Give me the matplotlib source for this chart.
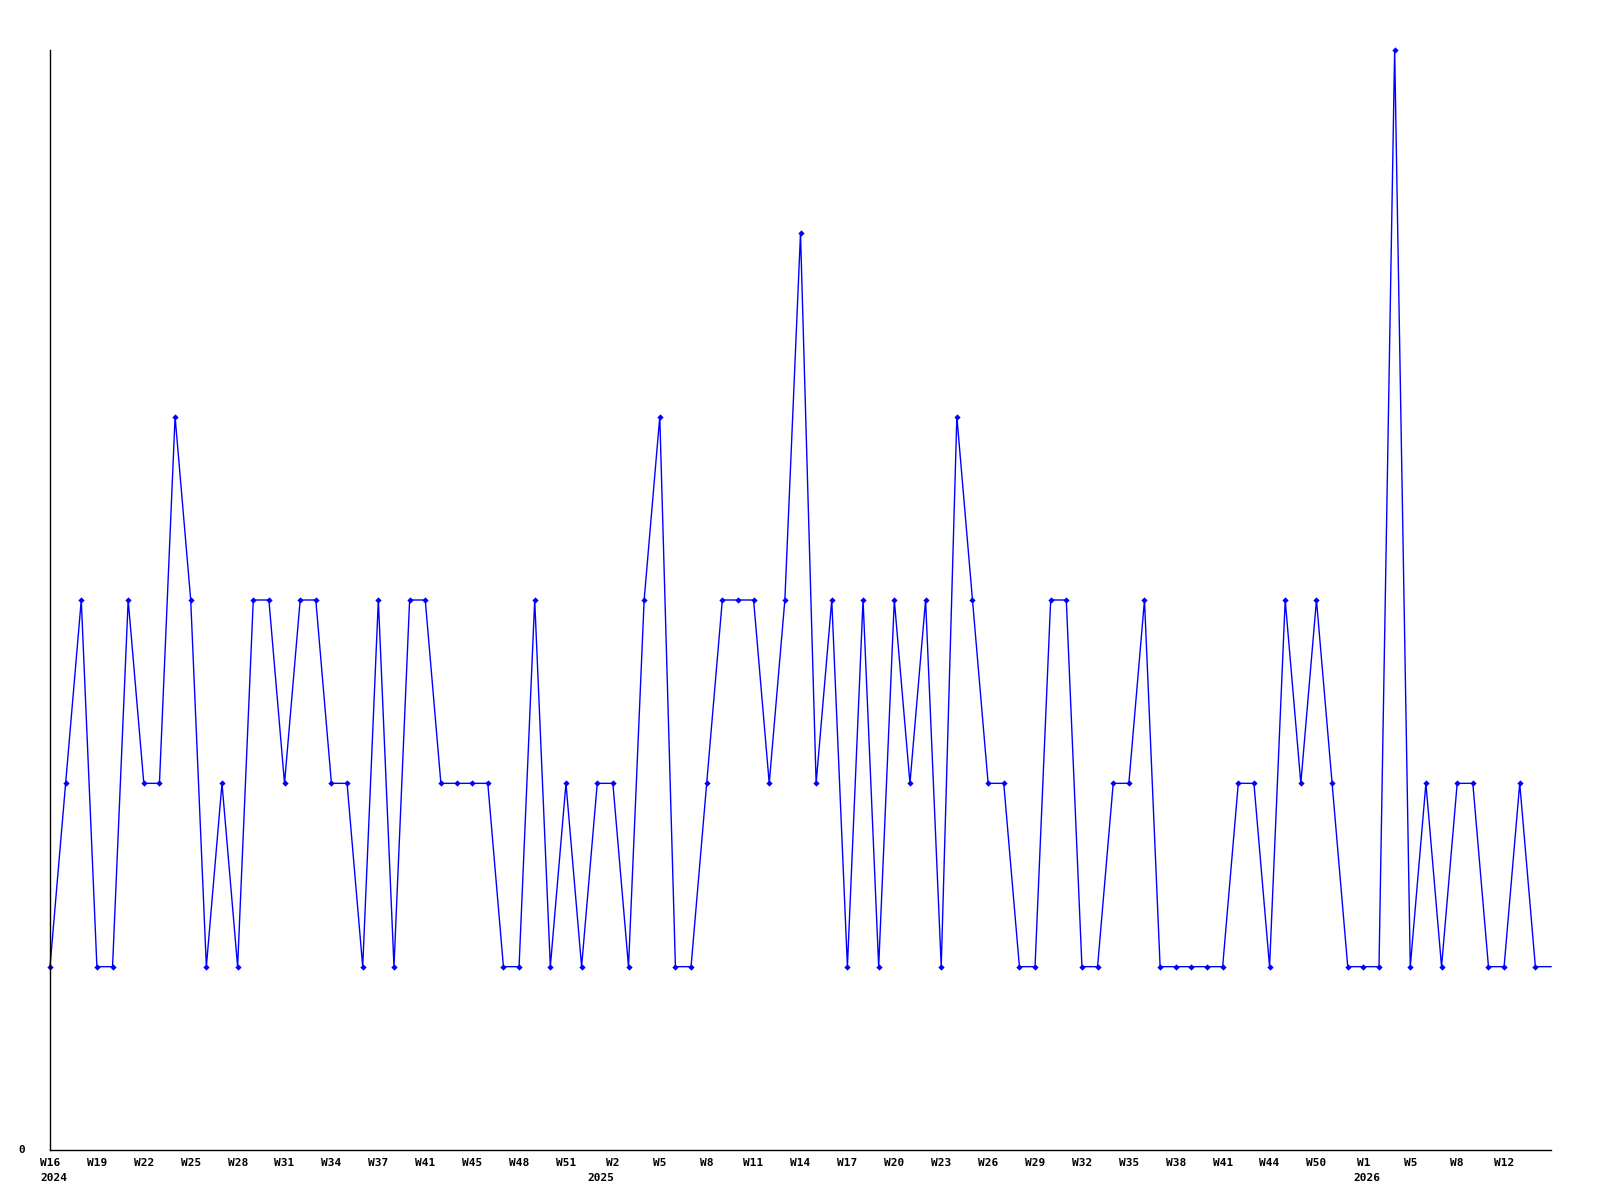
import matplotlib
matplotlib.use("Agg")
import matplotlib.pyplot as plt
import matplotlib.transforms as mtransforms

values = [1, 2, 3, 1, 1, 3, 2, 2, 4, 3,
          1, 2, 1, 3, 3, 2, 3, 3, 2, 2,
          1, 3, 1, 3, 3, 2, 2, 2, 2, 1,
          1, 3, 1, 2, 1, 2, 2, 1, 3, 4,
          1, 1, 2, 3, 3, 3, 2, 3, 5, 2,
          3, 1, 3, 1, 3, 2, 3, 1, 4, 3,
          2, 2, 1, 1, 3, 3, 1, 1, 2, 2,
          3, 1, 1, 1, 1, 1, 2, 2, 1, 3,
          2, 3, 2, 1, 1, 1, 6, 1, 2, 1,
          2, 2, 1, 1, 2, 1, 1]

tick_labels = ["W16", "W19", "W22", "W25", "W28", "W31", "W34", "W37",
               "W41", "W45", "W48", "W51", "W2", "W5", "W8", "W11",
               "W14", "W17", "W20", "W23", "W26", "W29", "W32", "W35",
               "W38", "W41", "W44", "W50", "W1", "W5", "W8", "W12"]
tick_step = 3
year_labels = {0: "2024", 36: "2025", 84: "2026"}

W, H = 1600, 1200
fig = plt.figure(figsize=(W / 100, H / 100), dpi=100)
ax = fig.add_axes([50 / W, 50 / H, (1551 - 50) / W, (1150 - 50) / H])

x = list(range(len(values)))
ax.plot(x, values, color="#0000ff", linewidth=1.0, solid_joinstyle="miter",
        clip_on=False)
ax.plot(x[:-1], values[:-1], linestyle="none", marker="D", markersize=3.2,
        color="#0000ff", markeredgewidth=0, clip_on=False)

ax.set_xlim(0, len(values) - 1)
ax.set_ylim(0, 6)
for s in ["top", "right"]:
    ax.spines[s].set_visible(False)
for s in ["left", "bottom"]:
    ax.spines[s].set_color("black")
    ax.spines[s].set_linewidth(1.0)

ax.set_xticks([])
ax.set_yticks([])

font = dict(family="DejaVu Sans Mono", fontsize=8, fontweight="bold", color="black")

# y label "0"
ytr = mtransforms.offset_copy(ax.get_yaxis_transform(), fig=fig, x=-25, y=0, units="dots")
ax.text(0, 0, "0", transform=ytr, ha="right", va="center", **font)

xt = ax.get_xaxis_transform()
lab_tr = mtransforms.offset_copy(xt, fig=fig, x=0, y=-8, units="dots")
for i, lab in enumerate(tick_labels):
    ax.text(i * tick_step, 0, lab, transform=lab_tr, ha="center", va="top", **font)

year_offsets = {0: ("left", -10), 36: ("right", 1), 84: ("left", -10)}
for idx, yl in year_labels.items():
    ha, dx = year_offsets[idx]
    tr = mtransforms.offset_copy(xt, fig=fig, x=dx, y=-23, units="dots")
    ax.text(idx, 0, yl, transform=tr, ha=ha, va="top", **font)

fig.savefig("out.png", dpi=100, facecolor="white")
